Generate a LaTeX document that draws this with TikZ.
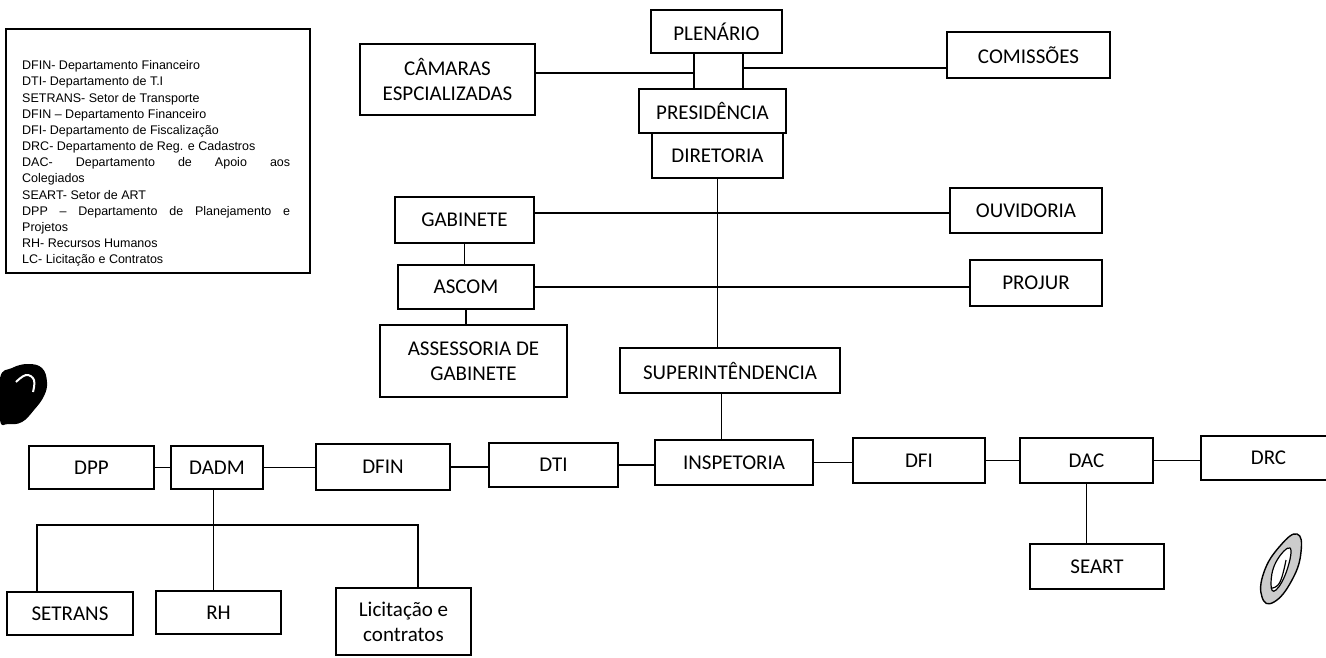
\documentclass[tikz,border=0pt]{standalone}
\usepackage{fontspec}
\setmainfont{Carlito}
\newfontfamily\legendfont[Ligatures=TeX]{Liberation Sans}
\usetikzlibrary{calc}
\newcommand\orgbox[6]{\node[orgnode, minimum width=#4pt-#2pt, minimum height=#5pt-#3pt] (#1) at ({(#2+#4)/2},{(#3+#5)/2}) {#6};}
\begin{document}
\begin{tikzpicture}[x=1pt,y=-1pt,
  orgnode/.style={draw, line width=1.3pt, inner sep=0pt, align=center,
    font=\fontsize{21}{25}\selectfont},
  conn/.style={line width=1.3pt},
  legendtext/.style={inner sep=0pt, align=left, anchor=north west,
    font=\legendfont\fontsize{12.5}{16.17}\selectfont}]
\useasboundingbox (0,0) rectangle (1326,657);

% legend
\orgbox{leg}{6}{29}{310}{273}{}
\node[legendtext] (legtxt) at (22,60.5) {%
DFIN- Departamento Financeiro\\
DTI- Departamento de T.I\\
SETRANS- Setor de Transporte\\
DFIN – Departamento Financeiro\\
DFI- Departamento de Fiscalização\\
DRC- Departamento de Reg. e Cadastros\\
\makebox[268pt][s]{DAC- Departamento de Apoio aos}\\
Colegiados\\
SEART- Setor de ART\\
\makebox[268pt][s]{DPP – Departamento de Planejamento e}\\
Projetos\\
RH- Recursos Humanos\\
LC- Licitação e Contratos};

% top
\orgbox{plen}{651}{10}{782}{53}{PLENÁRIO}
\orgbox{cam}{360}{44}{535}{115}{CÂMARAS\\ESPCIALIZADAS}
\orgbox{com}{947}{32}{1110}{78}{COMISSÕES}
\orgbox{pres}{639}{89}{786}{133}{PRESIDÊNCIA}
\orgbox{dir}{652}{133}{783}{178}{DIRETORIA}

% middle
\orgbox{gab}{395}{197}{534}{243}{GABINETE}
\orgbox{ouv}{950}{188}{1102}{233}{OUVIDORIA}
\orgbox{asc}{398}{265}{534}{309}{ASCOM}
\orgbox{proj}{970}{260}{1102}{306}{PROJUR}
\orgbox{ass}{380}{325}{567}{397}{ASSESSORIA DE\\GABINETE}
\orgbox{sup}{620}{348}{840}{393}{SUPERINTÊNDENCIA}

% bottom row
\orgbox{dpp}{29}{446}{154}{489}{DPP}
\orgbox{dadm}{171}{446}{263}{489}{DADM}
\orgbox{dfin}{316}{444}{450}{490}{DFIN}
\orgbox{dti}{489}{443}{618}{487}{DTI}
\orgbox{insp}{655}{440}{813}{485}{INSPETORIA}
\orgbox{dfi}{853}{438}{985}{483}{DFI}
\orgbox{dac}{1020}{438}{1153}{483}{DAC}
\orgbox{drc}{1201}{436}{1336}{480}{DRC}

% lower level
\orgbox{set}{7}{592}{133}{635}{SETRANS}
\orgbox{rh}{156}{591}{281}{634}{RH}
\orgbox{lic}{336}{588}{471}{655}{Licitação e\\contratos}
\orgbox{sea}{1030}{544}{1164}{589}{SEART}

% connectors top
\coordinate (sqL) at (694,73);
\coordinate (sqR) at (743,68);
\draw[conn] (plen.south -| sqL) -- (pres.north -| sqL);
\draw[conn] (plen.south -| sqR) -- (pres.north -| sqR);
\draw[conn] (cam.east |- sqL) -- (sqL);
\draw[conn] (sqR) -- (sqR -| com.west);

% main spine
\draw[conn, line width=1pt] (dir.south) -- (dir.south |- sup.north);
\draw[conn, line width=1pt] ([xshift=3.5pt]dir.south |- sup.south) -- ([xshift=3.5pt]dir.south |- insp.north);

% middle branches
\draw[conn] ([yshift=7pt]gab.east) -- ([yshift=7pt]gab.east -| ouv.west);
\draw[conn] (asc.east) -- (asc.east -| proj.west);
\draw[conn] (gab.south) -- (gab.south |- asc.north);
\draw[conn] (asc.south) -- (asc.south |- ass.north);

% bottom row links
\draw[conn] (dpp.east) -- (dpp.east -| dadm.west);
\draw[conn] (dadm.east) -- (dadm.east -| dfin.west);
\draw[conn] (dfin.east) -- (dfin.east -| dti.west);
\draw[conn] (dti.east) -- (dti.east -| insp.west);
\draw[conn] (insp.east) -- (insp.east -| dfi.west);
\draw[conn] (dfi.east) -- (dfi.east -| dac.west);
\draw[conn] (dac.east) -- (dac.east -| drc.west);

% DADM subtree
\coordinate (bus) at (0,525);
\draw[conn, line width=1pt] ([xshift=-4pt]dadm.south) -- ([xshift=-4pt]dadm.south |- rh.north);
\draw[conn] ([xshift=-33pt]set.north) |- ([xshift=14.5pt]lic.north |- bus) -- ([xshift=14.5pt]lic.north);

% DAC subtree
\draw[conn, line width=1pt] (dac.south) -- (dac.south |- sea.north);

% scan blot
\fill[black] plot[smooth cycle, tension=0.7] coordinates
  {(0,378) (12,368) (28,364) (42,368) (47,382) (44,396) (34,410) (22,422) (8,424) (0,420)};
\draw[white, line width=2pt] plot[smooth, tension=0.7] coordinates {(16,382) (26,375) (34,380) (33,392)};

% handwritten rubric
\draw[line width=1.4pt, fill=black!20] plot[smooth cycle, tension=0.8] coordinates
  {(1297,534) (1301,552) (1292,580) (1274,602) (1262,597) (1264,572) (1280,546)};
\draw[line width=1.2pt, fill=white] plot[smooth cycle, tension=0.8] coordinates
  {(1290,548) (1287,570) (1276,590) (1271,584) (1276,562)};
\draw[line width=1.2pt] plot[smooth, tension=0.8] coordinates {(1286,560) (1280,582) (1272,588)};
\end{tikzpicture}
\end{document}
